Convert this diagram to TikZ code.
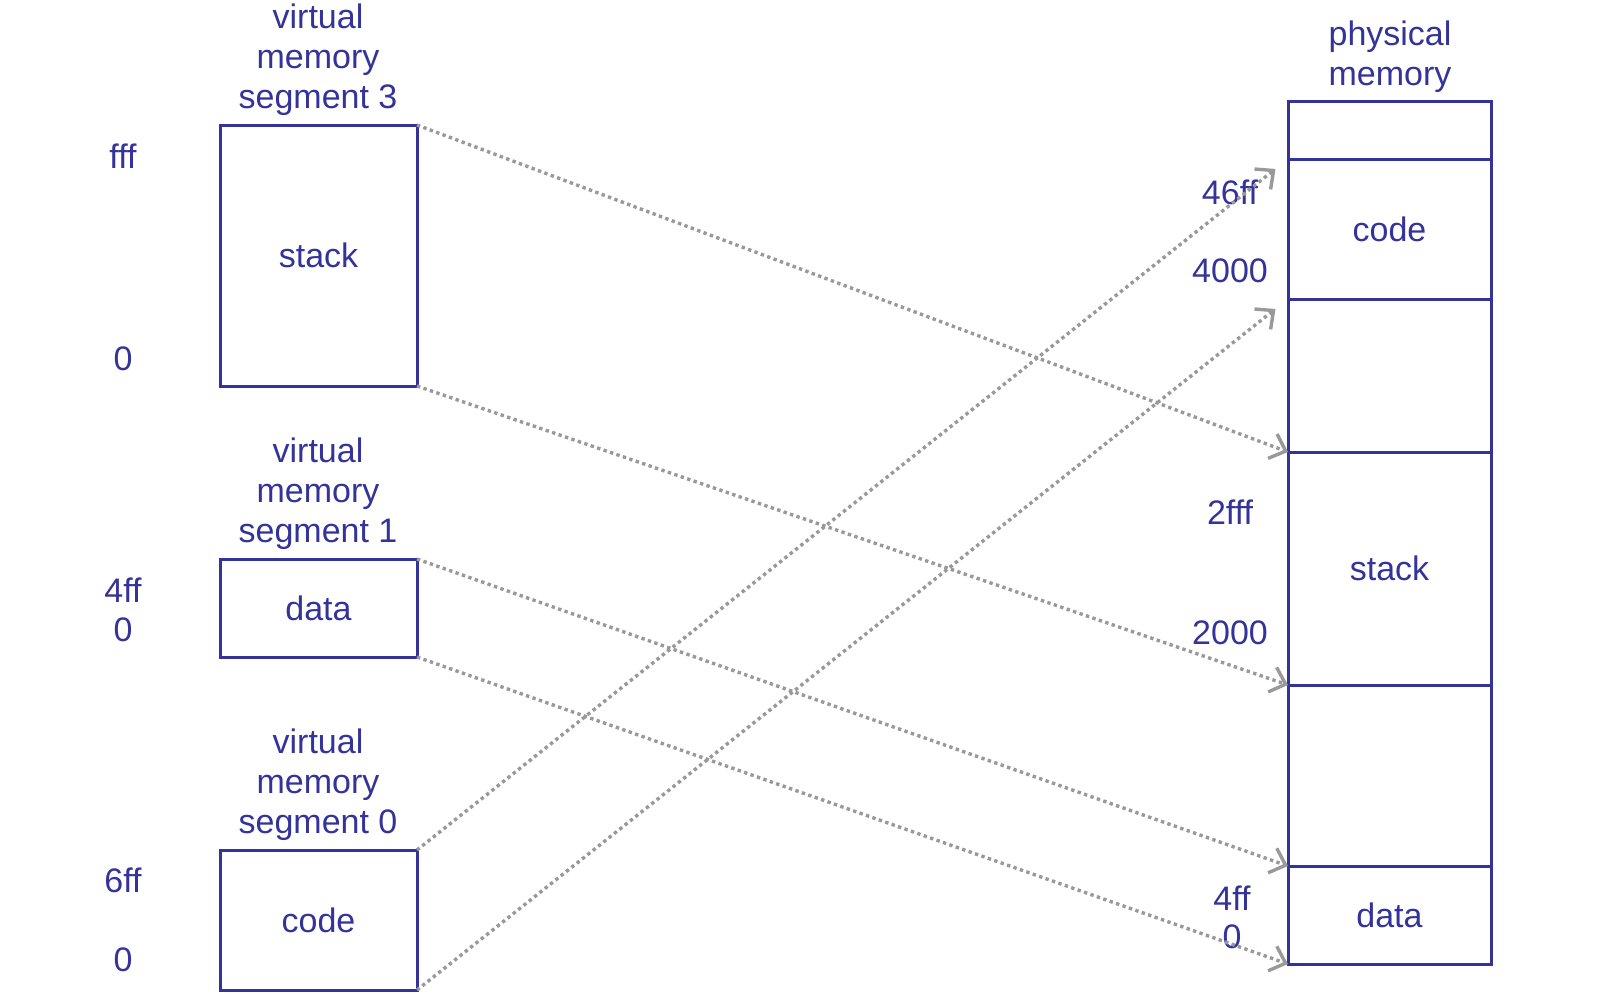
\documentclass[tikz,border=0pt]{standalone}
\usepackage{fontspec}
\setmainfont{Liberation Sans}
\usepackage{xcolor}
\usepackage{tikz}
\usetikzlibrary{positioning, arrows.meta}

\definecolor{segblue}{HTML}{333399}
\definecolor{mapgray}{HTML}{999999}

\begin{document}
\begin{tikzpicture}[x=0.5pt, y=-0.5pt,
        every node/.style={text=segblue, font=\fontsize{17}{20}\selectfont},
        seg/.style={draw=segblue, line width=1.5pt, minimum width=98.5pt, inner sep=0pt, outer sep=0pt,
            text depth=0pt},
        mem/.style={draw=segblue, line width=1.5pt, minimum width=101.5pt, inner sep=0pt, outer sep=0pt,
            text depth=0pt},
        title/.style={align=center, inner sep=0pt},
        map/.style={draw=mapgray, line width=1.7pt, dash pattern=on 1.7pt off 1.7pt,
            -{Straight Barb[length=7pt, width=13pt, line width=1.7pt]}}]
        \useasboundingbox (0,0) rectangle (1605,997);

        % virtual segments
        \node[seg, minimum height=130.5pt] (stack) at (318.5,255.5) {stack};
        \node[seg, minimum height=49pt]    (data)  at (318.5,608)   {data};
        \node[seg, minimum height=70pt]    (code)  at (318.5,920)   {code};

        \node[title] (t3) at (318,60)  {virtual\\memory\\segment 3};
        \node[title] (t1) at (318,494) {virtual\\memory\\segment 1};
        \node[title] (t0) at (318,785) {virtual\\memory\\segment 0};

        \node (v3hi) at (123,156) {fff};
        \node (v3lo) at (123,359) {0};
        \node (v1hi) at (123,590) {4ff};
        \node (v1lo) at (123,630) {0};
        \node (v0hi) at (123,880) {6ff};
        \node (v0lo) at (123,960) {0};

        % physical memory
        \node[mem, minimum height=29pt] (ptop) at (1389.5,130) {};
        \node[mem, minimum height=70pt,   below=0pt of ptop]   (pcode)  {code};
        \node[mem, minimum height=76.5pt, below=0pt of pcode]  (pfree1) {};
        \node[mem, minimum height=116.5pt, below=0pt of pfree1] (pstack) {stack};
        \node[mem, minimum height=90.5pt, below=0pt of pstack] (pfree2) {};
        \node[mem, minimum height=49pt,   below=0pt of pfree2] (pdata)  {data};

        \node[title] (tp) at (1390,57) {physical\\memory};

        \node (p46ff) at (1230,192) {46ff};
        \node (p4000) at (1230,271) {4000};
        \node (p2fff) at (1230,512) {2fff};
        \node (p2000) at (1230,633) {2000};
        \node (p4ff)  at (1232,898) {4ff};
        \node (p0)    at (1232,937) {0};

        % mappings
        \draw[map] (stack.north east) -- (pstack.north west);
        \draw[map] (stack.south east) -- (pfree2.north west);
        \draw[map] (data.north east) -- (pdata.north west);
        \draw[map] (data.south east) -- (pdata.south west);
        \draw[map, shorten >=8pt] (code.north east) -- (pcode.north west);
        \draw[map, shorten >=8pt] (code.south east) -- (pcode.south west);
\end{tikzpicture}
\end{document}
